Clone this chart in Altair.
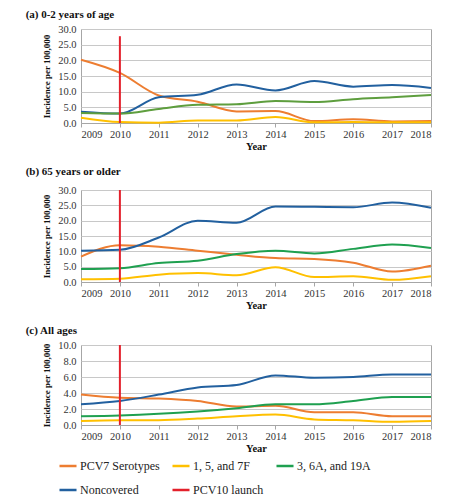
import altair as alt
import pandas as pd

years = list(range(2009, 2019))
series_names = ["PCV7 Serotypes", "1, 5, and 7F", "3, 6A, and 19A", "Noncovered"]
launch_label = "PCV10 launch"
colors = ["#ED7D31", "#FFC000", "#1FA050", "#22609F", "#E3202B"]
panel_a_green = "#5E9E3E"

# (a) 0-2 years of age
a_pcv7 = [20.2, 16.0, 8.8, 6.8, 3.7, 3.8, 0.6, 1.2, 0.5, 0.6]
a_157f = [1.7, 0.3, 0.1, 0.8, 0.8, 1.9, 0.2, 0.3, 0.2, 0.2]
a_3619 = [3.2, 3.0, 4.5, 5.8, 6.0, 7.0, 6.7, 7.6, 8.2, 8.9]
a_nonc = [3.6, 3.0, 8.2, 9.0, 12.3, 10.4, 13.4, 11.6, 12.1, 11.2]

# (b) 65 years or older
b_pcv7 = [8.3, 12.0, 11.5, 10.2, 8.9, 7.8, 7.5, 6.3, 3.4, 5.3]
b_157f = [0.9, 1.1, 2.4, 2.9, 2.2, 4.8, 1.6, 1.9, 0.7, 1.9]
b_3619 = [4.2, 4.5, 6.2, 6.9, 9.1, 10.2, 9.3, 10.8, 12.2, 11.1]
b_nonc = [10.2, 10.5, 14.5, 20.0, 19.3, 24.6, 24.5, 24.4, 25.9, 24.2]

# (c) All ages
c_pcv7 = [3.8, 3.4, 3.3, 3.0, 2.3, 2.4, 1.6, 1.6, 1.1, 1.1]
c_157f = [0.5, 0.6, 0.6, 0.8, 1.1, 1.3, 0.7, 0.6, 0.4, 0.5]
c_3619 = [1.1, 1.2, 1.4, 1.7, 2.1, 2.6, 2.6, 3.0, 3.5, 3.5]
c_nonc = [2.6, 3.0, 3.8, 4.7, 5.0, 6.2, 5.9, 6.0, 6.3, 6.3]

panel_titles = ["(a)  0-2 years of age", "(b)  65 years or older", "(c)  All ages"]
panel_series = [
    [a_pcv7, a_157f, a_3619, a_nonc],
    [b_pcv7, b_157f, b_3619, b_nonc],
    [c_pcv7, c_157f, c_3619, c_nonc],
]
y_max = [30, 30, 10]
y_step = [5, 5, 2]
launch_year = 2010
launch_top = [27.7, 30, 10]
heights = [94, 92, 80]
title_offsets = [4, 8, 4]

FONT = "Liberation Serif"
LEFT_PAD = 17

color = alt.Color(
    "series:N",
    scale=alt.Scale(domain=series_names + [launch_label], range=colors),
    legend=alt.Legend(
        title=None,
        orient="none",
        direction="horizontal",
        legendX=-23,
        legendY=427,
        columns=3,
        symbolType="stroke",
        symbolStrokeWidth=2.5,
        symbolSize=290,
        labelOffset=2,
        labelFont=FONT,
        labelFontSize=12,
        labelColor="#222222",
        gridAlign="each",
        columnPadding=7,
        rowPadding=8,
    ),
)


def panel(i):
    rows = []
    for name, vals in zip(series_names, panel_series[i]):
        for yr, v in zip(years, vals):
            rows.append({"series": name, "year": yr, "value": v})
    df = pd.DataFrame(rows)
    rule_df = pd.DataFrame(
        [{"series": launch_label, "year": launch_year, "value": 0, "value2": launch_top[i]}]
    )
    ticks = list(range(0, y_max[i] + 1, y_step[i]))
    x = alt.X(
        "year:Q",
        scale=alt.Scale(domain=[years[0], years[-1]], nice=False, zero=False),
        axis=alt.Axis(values=years, format="d", title="Year", grid=False,
                      ticks=True, tickSize=4, labelPadding=2, titlePadding=2),
    )
    y = alt.Y(
        "value:Q",
        scale=alt.Scale(domain=[0, y_max[i]], nice=False),
        axis=alt.Axis(values=ticks, format=".1f", title="Incidence per 100,000",
                      titleFontSize=9, ticks=False, domain=False,
                      labelPadding=5, titlePadding=6),
    )
    layers = []
    if i == 0:
        # panel (a) draws its 3, 6A, 19A line in an olive green
        main = df[df["series"] != series_names[2]]
        green = df[df["series"] == series_names[2]]
        layers.append(
            alt.Chart(main).mark_line(interpolate="monotone", strokeWidth=2).encode(
                x=x, y=y, color=color)
        )
        layers.append(
            alt.Chart(green).mark_line(interpolate="monotone", strokeWidth=2,
                                       color=panel_a_green).encode(x=x, y=y)
        )
    else:
        layers.append(
            alt.Chart(df).mark_line(interpolate="monotone", strokeWidth=2).encode(
                x=x, y=y, color=color)
        )
    layers.append(
        alt.Chart(rule_df).mark_rule(strokeWidth=2).encode(
            x=x, y=y, y2="value2:Q", color=color)
    )
    return alt.layer(*layers).properties(
        width=350,
        height=heights[i],
        title=alt.TitleParams(
            panel_titles[i], anchor="start", frame="bounds", dx=-LEFT_PAD,
            fontSize=11, font=FONT, fontWeight="bold", offset=title_offsets[i],
            color="#111111",
        ),
    )


chart = (
    alt.vconcat(panel(0), panel(1), panel(2), spacing=12)
    .properties(padding={"left": LEFT_PAD, "top": 0, "right": 4, "bottom": 0})
    .configure(font=FONT)
    .configure_view(stroke="#A6A6A6", strokeWidth=1)
    .configure_axis(
        labelFont=FONT, titleFont=FONT, labelFontSize=10.5, titleFontSize=10.5,
        titleFontWeight="bold", labelColor="#333333", titleColor="#111111",
        domainColor="#A6A6A6", tickColor="#A6A6A6", gridColor="#C8C8C8",
    )
)

chart.save("out.html", embed_options={"renderer": "svg", "actions": False})
